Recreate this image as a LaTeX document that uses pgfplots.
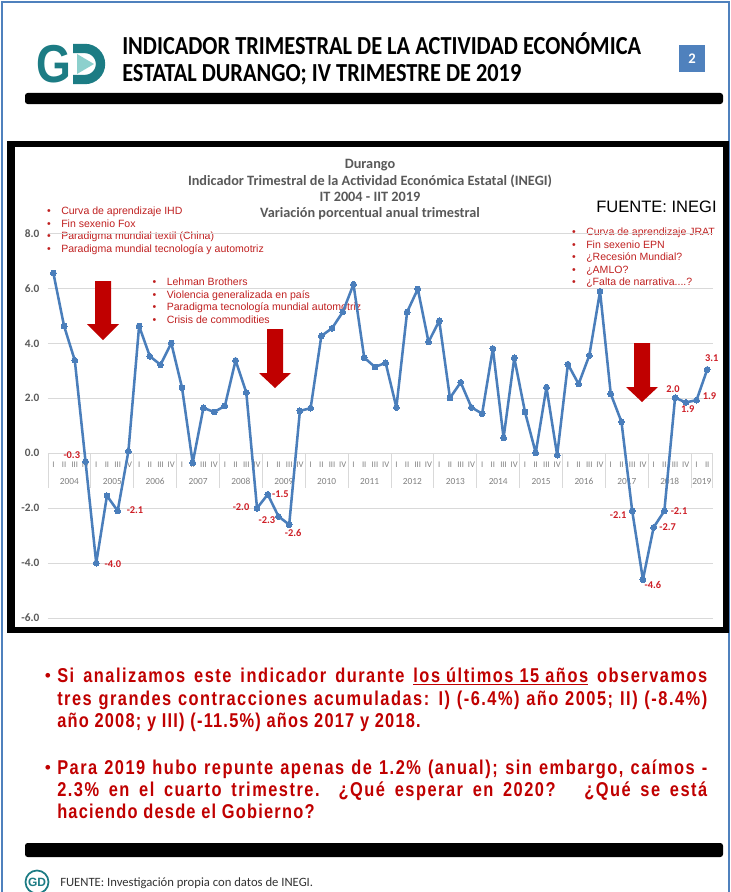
\documentclass[border=0pt]{standalone}
\usepackage{fontspec}
\setmainfont{Liberation Sans}
\newfontfamily\calib{Carlito}
\newfontfamily\hdr[FakeStretch=0.86]{Carlito}
\newfontfamily\pfamA[FakeStretch=0.82, LetterSpace=7.5]{Liberation Sans}
\newfontfamily\pfamB[FakeStretch=0.82, LetterSpace=6]{Liberation Sans}
\usepackage{pgfplots}
\usepackage{pgfplotstable}
\pgfplotsset{compat=1.18}

\definecolor{slideblue}{RGB}{79,129,189}
\definecolor{teal1}{RGB}{28,124,132}
\definecolor{teal2}{RGB}{140,208,205}
\definecolor{annred}{RGB}{192,32,32}
\definecolor{lblred}{RGB}{206,30,38}
\definecolor{arrred}{RGB}{192,0,0}
\definecolor{linecol}{RGB}{74,126,187}
\definecolor{gridcol}{RGB}{217,217,217}
\definecolor{titlegray}{RGB}{89,89,89}
\definecolor{catgray}{RGB}{128,128,128}
\definecolor{txtred}{RGB}{192,0,0}
\definecolor{boxblue}{RGB}{79,129,189}

\pgfplotstableread{
i v
0 6.56
1 4.63
2 3.38
3 -0.3
4 -4.0
5 -1.55
6 -2.1
7 0.07
8 4.63
9 3.53
10 3.22
11 4.01
12 2.39
13 -0.35
14 1.65
15 1.50
16 1.72
17 3.38
18 2.21
19 -2.0
20 -1.5
21 -2.3
22 -2.6
23 1.54
24 1.64
25 4.27
26 4.55
27 5.14
28 6.15
29 3.48
30 3.14
31 3.29
32 1.67
33 5.14
34 5.98
35 4.05
36 4.82
37 2.01
38 2.58
39 1.67
40 1.44
41 3.81
42 0.56
43 3.47
44 1.50
45 0.01
46 2.40
47 -0.07
48 3.24
49 2.52
50 3.56
51 5.89
52 2.16
53 1.14
54 -2.1
55 -4.6
56 -2.7
57 -2.1
58 2.02
59 1.85
60 1.93
61 3.05
}\datatable

\newcommand\annf{\fontsize{7.9}{9}\selectfont}
\newcommand\ann[3]{%
  \node[anchor=base, inner sep=0, text=annred, font=\annf] at (#1,#2+3.8) {•};
  \node[anchor=base west, inner sep=0, text=annred, font=\annf] at (#1+12,#2+3.8) {#3};}
\newcommand\pfA{\pfamA\bfseries\fontsize{15}{17}\selectfont}
\newcommand\pfB{\pfamB\bfseries\fontsize{15}{17}\selectfont}
\newcommand\pline[1]{\makebox[487.5pt][s]{#1}}

\tikzset{
  tit/.style={text=titlegray, font=\calib\bfseries\fontsize{10.7}{12}\selectfont, inner sep=0, anchor=base},
  rom/.style={text=catgray, font=\calib\fontsize{6.5}{7}\selectfont, yshift=-8.8pt, inner sep=0},
  yr/.style={text=catgray, font=\calib\fontsize{7}{8}\selectfont, yshift=-21.3pt, inner sep=0},
  lbl/.style={text=lblred, font=\calib\bfseries\fontsize{7.8}{9}\selectfont, inner sep=0},
  ptxtA/.style={anchor=base west, inner sep=0, text=txtred, font=\pfA},
  ptxtB/.style={anchor=base west, inner sep=0, text=txtred, font=\pfB},
  pbul/.style={anchor=base, inner sep=0, text=txtred, font=\fontsize{13}{15}\selectfont},
}

\begin{document}
\begin{tikzpicture}
\begin{scope}[x=0.75pt,y=-0.75pt]
\path[use as bounding box] (0,0) rectangle (731,892);
\fill[white] (0,0) rectangle (731,892);
\draw[slideblue, line width=1.6pt] (2,892) -- (2,2) -- (729,2) -- (729,892);
% logo
\node[anchor=base west, inner sep=0, text=teal1] at (36,83) {\scalebox{0.84}[1]{\fontsize{40}{40}\selectfont\bfseries G}};
\draw[teal1, line width=7pt] (73,48.5) -- (85,48.5) arc[start angle=-90,end angle=90,radius=15.5] -- (73,79.5);
\fill[teal2] (77,54) -- (77,74) -- (94,64) -- cycle;
% header
\node[anchor=base west, inner sep=0] at (122,55) {\hdr\bfseries\fontsize{19.5}{20}\selectfont INDICADOR TRIMESTRAL DE LA ACTIVIDAD ECONÓMICA};
\node[anchor=base west, inner sep=0] at (122,82) {\hdr\bfseries\fontsize{19.5}{20}\selectfont ESTATAL DURANGO; IV TRIMESTRE DE 2019};
\fill[boxblue] (679,45) rectangle (705,72);
\node[text=white, inner sep=0] at (692,58.5) {\calib\bfseries\fontsize{11}{12}\selectfont 2};
\fill[black, rounded corners=2pt] (25,93) rectangle (723,104);
% chart frame
\fill[black] (7,141) rectangle (729,633);
\fill[white] (15,147) rectangle (723,627);
% chart titles
\node[tit] at (370,168.6) {Durango};
\node[tit] at (370,185.6) {Indicador Trimestral de la Actividad Económica Estatal (INEGI)};
\node[tit] at (370,201.6) {IT 2004 - IIT 2019};
\node[tit] at (370,217.6) {Variación porcentual anual trimestral};
\node[anchor=base west, inner sep=0, font=\fontsize{12.4}{14}\selectfont] at (596,212.6) {FUENTE: INEGI};
% annotations
\ann{49}{211}{Curva de aprendizaje IHD}
\ann{49}{223.5}{Fin sexenio Fox}
\ann{49}{236}{Paradigma mundial textil (China)}
\ann{49}{248.5}{Paradigma mundial tecnología y automotriz}
\ann{154.5}{282}{Lehman Brothers}
\ann{154.5}{294.5}{Violencia generalizada en país}
\ann{154.5}{307}{Paradigma tecnología mundial automotriz}
\ann{154.5}{319.5}{Crisis de commodities}
\ann{574}{232}{Curva de aprendizaje JRAT}
\ann{574}{244.5}{Fin sexenio EPN}
\ann{574}{257}{¿Recesión Mundial?}
\ann{574}{269.5}{¿AMLO?}
\ann{574}{282}{¿Falta de narrativa....?}
% bottom text
\node[pbul] at (48,681) {•};
\node[ptxtA] at (57,682) {\pline{Si analizamos este indicador durante \underline{los últimos 15 años} observamos}};
\node[ptxtA] at (57,705.5) {\pline{tres grandes contracciones acumuladas: I) (-6.4\%) año 2005; II) (-8.4\%)}};
\node[ptxtB] at (57,727.5) {año 2008; y III) (-11.5\%) años 2017 y 2018.};
\node[pbul] at (48,773) {•};
\node[ptxtA] at (57,774) {\pline{Para 2019 hubo repunte apenas de 1.2\% (anual); sin embargo, caímos -}};
\node[ptxtA] at (57,796.5) {\pline{2.3\% en el cuarto trimestre. ¿Qué esperar en 2020? \ ¿Qué se está}};
\node[ptxtB] at (57,818.5) {haciendo desde el Gobierno?};
\fill[black, rounded corners=2pt] (25,843) rectangle (723,857);
% footer
\draw[teal1, line width=1.3pt] (37,882) circle[radius=11.5];
\node[text=teal1, inner sep=0] at (37,882) {\bfseries\fontsize{9}{10}\selectfont GD};
\node[anchor=base west, inner sep=0, text=black!80] at (60,886) {\calib\fontsize{9.5}{11}\selectfont FUENTE: Investigación propia con datos de INEGI.};
\end{scope}

\begin{axis}[
  at={(36pt,-463.5pt)}, anchor=south west,
  scale only axis, width=498.45pt, height=288.4pt,
  xmin=-0.5, xmax=61.5, ymin=-6, ymax=8,
  axis line style={draw=none},
  tick style={draw=none},
  xtick=\empty,
  ytick={-6,-4,...,8},
  ymajorgrids,
  major grid style={gridcol, line width=0.6pt},
  yticklabel style={font=\calib\bfseries\fontsize{8.5}{10}\selectfont, text=titlegray, xshift=-3pt,
    /pgf/number format/fixed, /pgf/number format/fixed zerofill,
    /pgf/number format/precision=1, /pgf/number format/assume math mode=true},
  clip=false,
]
\pgfplotsinvokeforeach{0,...,15}{\draw[gridcol, line width=0.6pt] (axis cs:{#1*4-0.5},0) -- (axis cs:{#1*4-0.5},-1.26);}
\draw[gridcol, line width=0.6pt] (axis cs:61.5,0) -- (axis cs:61.5,-1.26);
\pgfplotsinvokeforeach{0,4,...,60}{\node[rom] at (axis cs:#1,0) {I};}
\pgfplotsinvokeforeach{1,5,...,61}{\node[rom] at (axis cs:#1,0) {II};}
\pgfplotsinvokeforeach{2,6,...,58}{\node[rom] at (axis cs:#1,0) {III};}
\pgfplotsinvokeforeach{3,7,...,59}{\node[rom] at (axis cs:#1,0) {IV};}
\pgfplotsinvokeforeach{2004,...,2018}{\node[yr] at (axis cs:{(#1-2004)*4+1.5},0) {#1};}
\node[yr] at (axis cs:60.5,0) {2019};
\addplot[linecol, line width=1.9pt, line join=round, mark=*, mark size=2.2pt, mark options={fill=linecol, draw=linecol, line width=0pt}] table[x=i,y=v]{\datatable};
\node[lbl, xshift=-10.3pt, yshift=4.9pt] at (axis cs:3,-0.3) {-0.3};
\node[lbl, xshift=12.5pt, yshift=-0.5pt] at (axis cs:4,-4.0) {-4.0};
\node[lbl, xshift=13pt, yshift=0.5pt] at (axis cs:6,-2.1) {-2.1};
\node[lbl, xshift=-12pt, yshift=1pt] at (axis cs:19,-2.0) {-2.0};
\node[lbl, xshift=9.5pt, yshift=0pt] at (axis cs:20,-1.5) {-1.5};
\node[lbl, xshift=-8.6pt, yshift=-2.6pt] at (axis cs:21,-2.3) {-2.3};
\node[lbl, xshift=3pt, yshift=-6.4pt] at (axis cs:22,-2.6) {-2.6};
\node[lbl, xshift=-10.5pt, yshift=-3pt] at (axis cs:54,-2.1) {-2.1};
\node[lbl, xshift=7.5pt, yshift=-4pt] at (axis cs:55,-4.6) {-4.6};
\node[lbl, xshift=10.5pt, yshift=0pt] at (axis cs:56,-2.7) {-2.7};
\node[lbl, xshift=11pt, yshift=-0.5pt] at (axis cs:57,-2.1) {-2.1};
\node[lbl, xshift=-1.5pt, yshift=6.5pt] at (axis cs:58,2.02) {2.0};
\node[lbl, xshift=1.5pt, yshift=-5pt] at (axis cs:59,1.85) {1.9};
\node[lbl, xshift=9.7pt, yshift=3.4pt] at (axis cs:60,1.93) {1.9};
\node[lbl, xshift=3.4pt, yshift=8.6pt] at (axis cs:61,3.05) {3.1};
\end{axis}

\begin{scope}[x=0.75pt,y=-0.75pt]
\fill[arrred] (95,281) -- (111,281) -- (111,324) -- (119,324) -- (103,340) -- (87,324) -- (95,324) -- cycle;
\fill[arrred] (267,329) -- (283,329) -- (283,373) -- (291,373) -- (275,388) -- (259,373) -- (267,373) -- cycle;
\fill[arrred] (634,343) -- (650,343) -- (650,387) -- (658,387) -- (642,402) -- (626,387) -- (634,387) -- cycle;
\end{scope}
\end{tikzpicture}
\end{document}
